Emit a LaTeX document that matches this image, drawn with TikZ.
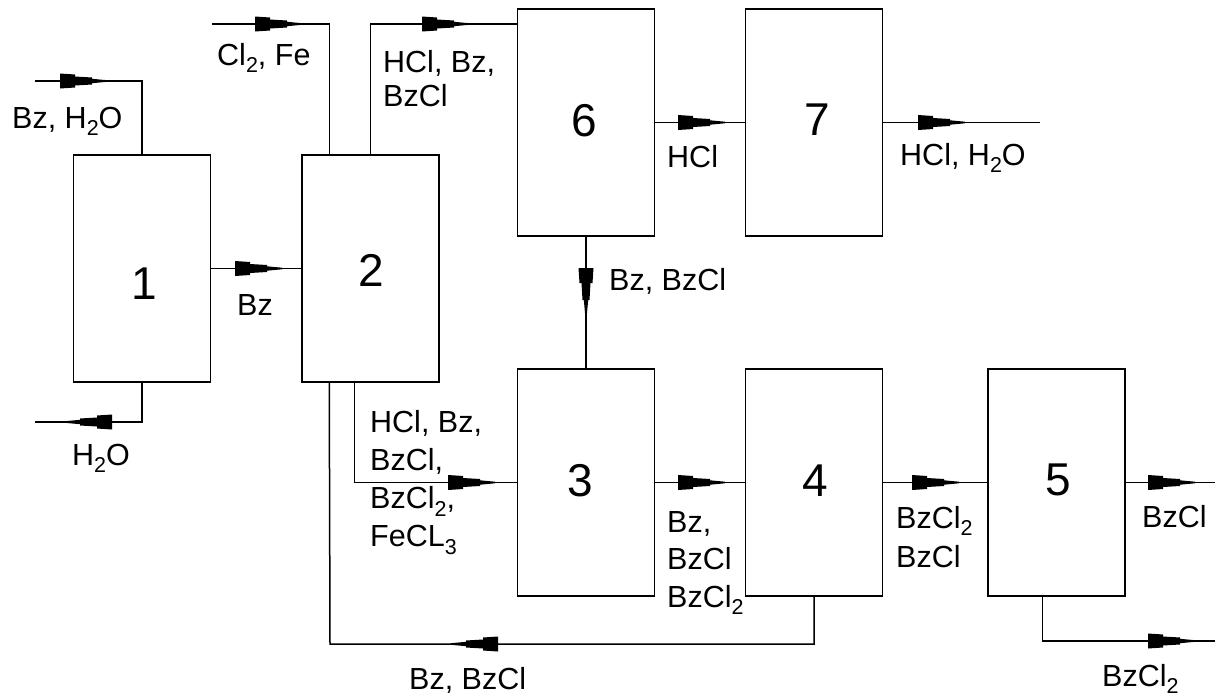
\documentclass[tikz,border=0pt]{standalone}
\usepackage{fontspec}
\setmainfont{Liberation Sans}
\usetikzlibrary{calc}
\newcommand{\sbs}[1]{\raisebox{-0.26em}{\fontsize{21.5}{21.5}\selectfont #1}}
\newcommand{\lns}[2]{{\renewcommand\arraystretch{#1}\begin{tabular}[t]{@{}l@{}}#2\end{tabular}}}
\begin{document}
\begin{tikzpicture}[x=1pt,y=-1pt,
  box/.style={draw, line width=1.5pt, minimum width=137pt, minimum height=227pt, inner sep=0pt},
  digit/.style={font=\fontsize{46}{46}\selectfont, inner sep=0pt},
  lbl/.style={font=\fontsize{30.5}{37.5}\selectfont, inner sep=0pt, anchor=base west},
  flow/.style={line width=1.5pt},
  flowmark/.pic={\fill (0pt,7.5pt) -- (15pt,6.5pt) -- (15pt,4.5pt) -- (32pt,3.5pt) -- (32pt,2.2pt) -- (47pt,0.8pt) -- (47pt,-0.8pt) -- (32pt,-2.2pt) -- (32pt,-3.5pt) -- (15pt,-4.5pt) -- (15pt,-6.5pt) -- (0pt,-7.5pt) -- cycle;}
]
\useasboundingbox (0,0) rectangle (1215,697);

% boxes
\node[box] (b1) at (142,268.5) {};
\node[box] (b2) at (370.5,268.5) {};
\node[box] (b6) at (586,122.5) {};
\node[box] (b7) at (814,122.5) {};
\node[box] (b3) at (586,482.5) {};
\node[box] (b4) at (814,482.5) {};
\node[box] (b5) at (1056.5,482.5) {};

% digits
\node[digit] (d1) at (144,283.5) {1};
\node[digit] (d2) at (371,270) {2};
\node[digit] (d6) at (584,121) {6};
\node[digit] (d7) at (817,120) {7};
\node[digit] (d3) at (580,481) {3};
\node[digit] (d4) at (815,480.5) {4};
\node[digit] (d5) at (1058,480) {5};

% free ends
\coordinate (in1) at (35,81);
\coordinate (out1) at (35,422);
\coordinate (in2) at (212,24);
\coordinate (out5) at (1215,482.5);
\coordinate (out5b) at (1215,641);
\coordinate (rc) at (330,644);
\coordinate (out7) at (1040,122.5);

% connectors
\draw[flow] (in1) -| (b1.north);
\pic at (60,81) {flowmark};

\draw[flow] (b1.south) |- (out1);
\pic[rotate=180] at (112,422) {flowmark};

\draw[flow] (b1.east) -- (b2.west);
\pic at (235,268.5) {flowmark};

\draw[flow] (in2) -| ($(b2.north west)+(28,0)$);
\pic at (255,24) {flowmark};

\draw[flow] (b2.north) |- (b6.west |- in2);
\pic at (422,24) {flowmark};

\draw[flow] ($(b2.south west)+(53,0)$) |- (b3.west);
\pic at (448,482.5) {flowmark};

\draw[flow] (b3.east) -- (b4.west);
\pic at (678,482.5) {flowmark};

\draw[flow] (b4.east) -- (b5.west);
\pic at (912,482.5) {flowmark};

\draw[flow] (b5.east) -- (out5);
\pic at (1148,482.5) {flowmark};

\draw[flow] ($(b5.south west)+(55,0)$) |- (out5b);
\pic at (1148,641) {flowmark};

\draw[flow] (b4.south) |- (rc) -- ($(b2.south west)+(28,0)$);
\pic[rotate=180] at (498,644) {flowmark};

\draw[flow] (b6.east) -- (b7.west);
\pic at (678,122.5) {flowmark};

\draw[flow] (b7.east) -- (out7);
\pic at (918,122.5) {flowmark};

\draw[flow] (b6.south) -- (b3.north);
\pic[rotate=-90] at (586,268) {flowmark};

% labels
\node[lbl] (l1) at (12,128) {Bz, H\sbs{2}O};
\node[lbl] (l2) at (72,465) {H\sbs{2}O};
\node[lbl] (l3) at (217,65) {Cl\sbs{2}, Fe};
\node[lbl] (l4) at (383,72) {\lns{0.933}{HCl, Bz,\\BzCl}};
\node[lbl] (l5) at (237,315) {Bz};
\node[lbl] (l6) at (370,432) {\lns{1.02}{HCl, Bz,\\BzCl,\\BzCl\sbs{2},\\FeCL\sbs{3}}};
\node[lbl] (l7) at (667,532) {\lns{1.0}{Bz,\\BzCl\\BzCl\sbs{2}}};
\node[lbl] (l8) at (896,528) {\lns{1.04}{BzCl\sbs{2}\\BzCl}};
\node[lbl] (l9) at (1142,527) {BzCl};
\node[lbl] (l10) at (1102,686) {BzCl\sbs{2}};
\node[lbl] (l11) at (409,689) {Bz, BzCl};
\node[lbl] (l12) at (667,167) {HCl};
\node[lbl] (l13) at (900,165) {HCl, H\sbs{2}O};
\node[lbl] (l14) at (609,290) {Bz, BzCl};
\end{tikzpicture}
\end{document}
